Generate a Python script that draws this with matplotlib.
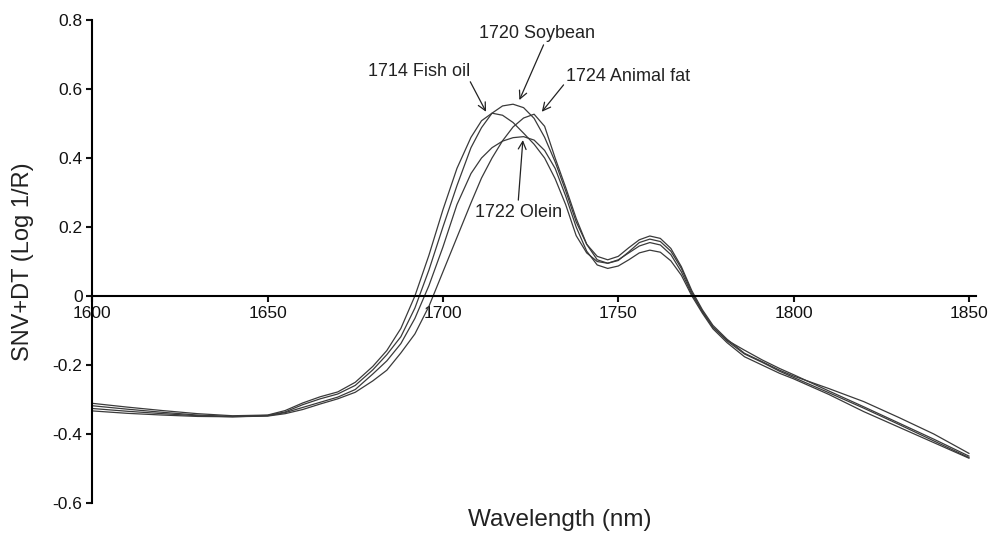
import numpy as np
import matplotlib
matplotlib.use("Agg")
import matplotlib.pyplot as plt

plt.rcParams['font.family'] = ['Liberation Sans', 'DejaVu Sans']

# Wavelength grid (nm) and SNV+DT spectra
wavelength = [1600, 1610, 1620, 1630, 1640, 1650, 1655, 1660, 1665, 1670,
              1675, 1680, 1684, 1688, 1692, 1696, 1700, 1704, 1708, 1711,
              1714, 1717, 1720, 1723, 1726, 1729, 1732, 1735, 1738, 1741,
              1744, 1747, 1750, 1753, 1756, 1759, 1762, 1765, 1768, 1771,
              1774, 1777, 1781, 1786, 1791, 1796, 1800, 1810, 1820, 1830,
              1840, 1850]

fish_oil = [-0.311, -0.322, -0.332, -0.341, -0.347, -0.345, -0.332, -0.310, -0.292, -0.278,
            -0.250, -0.204, -0.158, -0.094, 0.000, 0.118, 0.250, 0.370, 0.460, 0.508,
            0.530, 0.524, 0.503, 0.472, 0.440, 0.400, 0.340, 0.265, 0.175, 0.125,
            0.100, 0.095, 0.105, 0.125, 0.145, 0.155, 0.148, 0.120, 0.070, 0.005,
            -0.045, -0.090, -0.128, -0.157, -0.185, -0.210, -0.228, -0.275, -0.321, -0.368,
            -0.415, -0.464]

soybean = [-0.318, -0.328, -0.337, -0.345, -0.349, -0.346, -0.336, -0.315, -0.298, -0.284,
           -0.259, -0.214, -0.170, -0.118, -0.035, 0.075, 0.200, 0.320, 0.430, 0.488,
           0.530, 0.551, 0.556, 0.546, 0.515, 0.460, 0.389, 0.305, 0.215, 0.150,
           0.115, 0.105, 0.115, 0.140, 0.163, 0.174, 0.167, 0.138, 0.085, 0.015,
           -0.040, -0.085, -0.125, -0.166, -0.190, -0.215, -0.232, -0.268, -0.306, -0.352,
           -0.400, -0.456]

olein = [-0.326, -0.334, -0.341, -0.347, -0.350, -0.347, -0.338, -0.323, -0.308, -0.293,
         -0.271, -0.226, -0.188, -0.138, -0.065, 0.030, 0.142, 0.265, 0.355, 0.400,
         0.430, 0.449, 0.459, 0.462, 0.452, 0.422, 0.370, 0.290, 0.200, 0.130,
         0.090, 0.080, 0.087, 0.105, 0.125, 0.133, 0.127, 0.102, 0.060, 0.000,
         -0.050, -0.095, -0.135, -0.176, -0.200, -0.224, -0.240, -0.285, -0.335, -0.380,
         -0.425, -0.470]

animal_fat = [-0.333, -0.340, -0.345, -0.349, -0.350, -0.348, -0.341, -0.329, -0.313, -0.298,
              -0.279, -0.246, -0.215, -0.165, -0.110, -0.030, 0.070, 0.170, 0.270, 0.342,
              0.400, 0.450, 0.490, 0.516, 0.527, 0.492, 0.400, 0.315, 0.225, 0.150,
              0.105, 0.095, 0.103, 0.128, 0.155, 0.165, 0.158, 0.130, 0.080, 0.010,
              -0.045, -0.090, -0.130, -0.168, -0.192, -0.218, -0.236, -0.280, -0.325, -0.372,
              -0.420, -0.468]

labels = ["1714 Fish oil", "1720 Soybean", "1724 Animal fat", "1722 Olein"]

fig = plt.figure(figsize=(9.91, 5.34), dpi=100)
ax = fig.add_axes([0.0931, 0.058, 0.8917, 0.9045])

for y in [fish_oil, soybean, olein, animal_fat]:
    ax.plot(wavelength, y, color='#3a3a3a', lw=0.9)

ax.set_xlim(1600, 1852)
ax.set_ylim(-0.6, 0.8)
ax.set_xticks([1600, 1650, 1700, 1750, 1800, 1850])
ax.set_yticks([-0.6, -0.4, -0.2, 0, 0.2, 0.4, 0.6, 0.8])
ax.set_yticklabels(["-0.6", "-0.4", "-0.2", "0", "0.2", "0.4", "0.6", "0.8"])

ax.spines['top'].set_visible(False)
ax.spines['right'].set_visible(False)
ax.spines['bottom'].set_position(('data', 0))
ax.spines['bottom'].set_linewidth(1.5)
ax.spines['left'].set_linewidth(1.5)
ax.tick_params(axis='both', direction='out', length=4, width=1.5, labelsize=12.5,
               colors='#111111', pad=3)

ax.set_xlabel("Wavelength (nm)", fontsize=17.5, color='#222222')
ax.set_ylabel("SNV+DT (Log 1/R)", fontsize=17, color='#222222')
ax.xaxis.set_label_coords(0.529, -0.012)
ax.yaxis.set_label_coords(-0.066, 0.5)

# peak labels with arrows
text_pos = [(1693.2, 0.652), (1726.8, 0.762), (1752.7, 0.635), (1721.7, 0.241)]
arrow_tail = [(1707.8, 0.621), (1728.7, 0.728), (1734.4, 0.612), (1721.5, 0.278)]
arrow_head = [(1712.3, 0.534), (1721.8, 0.568), (1728.2, 0.534), (1722.8, 0.452)]

for lab, tp, tl, hd in zip(labels, text_pos, arrow_tail, arrow_head):
    ax.text(tp[0], tp[1], lab, fontsize=13, ha='center', va='center', color='#222222')
    ax.annotate("", xy=hd, xytext=tl,
                arrowprops=dict(arrowstyle='->', lw=0.9, color='#222222',
                                shrinkA=0, shrinkB=0, mutation_scale=14))

fig.savefig("out.png", dpi=100)
